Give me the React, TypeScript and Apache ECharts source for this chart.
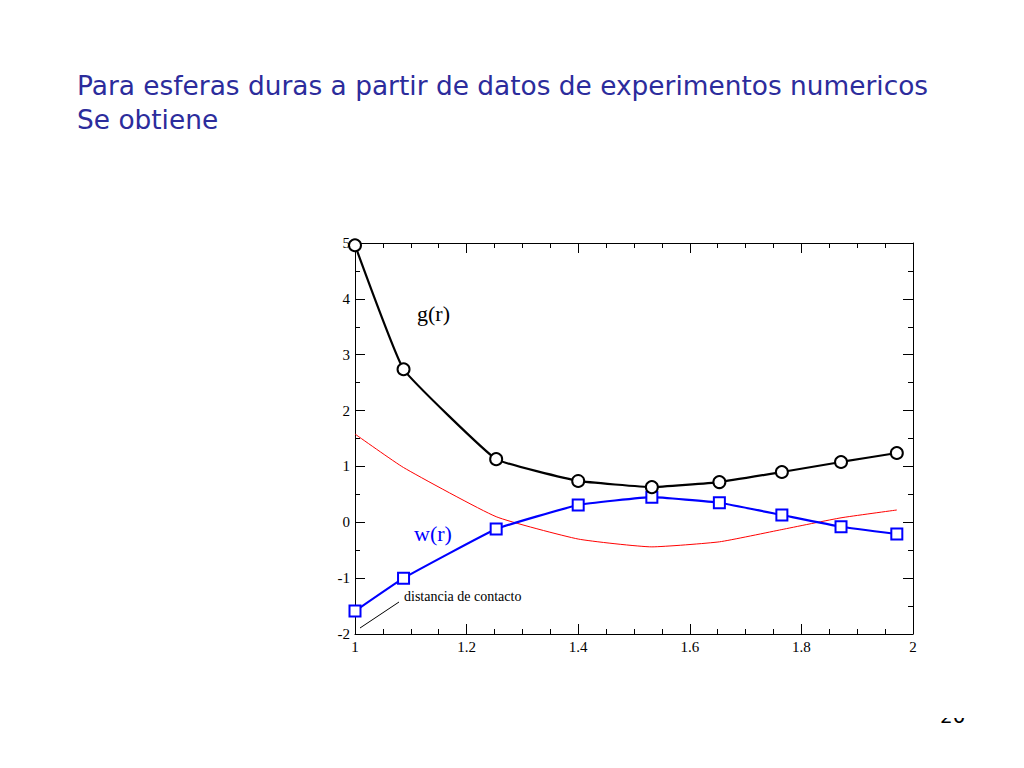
import { useEffect, useRef } from "react";
import * as echarts from "echarts";

const rValues = [1.0, 1.087, 1.253, 1.4, 1.532, 1.653, 1.765, 1.871, 1.971];
const gValues = [4.96, 2.74, 1.13, 0.74, 0.63, 0.72, 0.9, 1.08, 1.24];
const wValues = [-1.59, -1.0, -0.12, 0.31, 0.45, 0.35, 0.13, -0.08, -0.21];
const redValues = [1.58, 0.98, 0.1, -0.3, -0.44, -0.35, -0.13, 0.08, 0.22];

const xTicks = { min: 1, max: 2, interval: 0.2 };
const yTicks = { min: -2, max: 5, interval: 1 };

const titleLines = [
  "Para esferas duras a partir de datos de experimentos numericos",
  "Se obtiene",
];

const pair = (ys: number[]) => rValues.map((x, i) => [x, ys[i]]);

export default function App(): JSX.Element {
  const chartRef = useRef(null);
  useEffect(() => {
    const chartDom = chartRef.current;
    const myChart = echarts.init(chartDom, null, { renderer: "svg" });
    const serif = "'Liberation Serif', 'DejaVu Serif', serif";
    const axisBase = {
      type: "value",
      axisLine: { show: true, onZero: false, lineStyle: { color: "#000", width: 1 } },
      axisTick: { show: true, inside: true, length: 10, lineStyle: { color: "#000" } },
      minorTick: { show: true, length: 5, lineStyle: { color: "#000" } },
      splitLine: { show: false },
    };
    const option = {
      animation: false,
      grid: { left: 355, top: 243, width: 558, height: 391 },
      xAxis: [
        {
          ...axisBase,
          position: "bottom",
          ...xTicks,
          minorTick: { ...axisBase.minorTick, splitNumber: 4 },
          axisLabel: {
            color: "#000", fontFamily: serif, fontSize: 15, margin: 5,
            formatter: (v: number) => String(Math.round(v * 10) / 10),
          },
        },
        {
          ...axisBase,
          position: "top",
          ...xTicks,
          minorTick: { ...axisBase.minorTick, splitNumber: 4 },
          axisLabel: { show: false },
        },
      ],
      yAxis: [
        {
          ...axisBase,
          position: "left",
          ...yTicks,
          minorTick: { ...axisBase.minorTick, splitNumber: 2 },
          axisLabel: { color: "#000", fontFamily: serif, fontSize: 15, margin: 5 },
        },
        {
          ...axisBase,
          position: "right",
          ...yTicks,
          minorTick: { ...axisBase.minorTick, splitNumber: 2 },
          axisLabel: { show: false },
        },
      ],
      series: [
        {
          name: "red",
          type: "line",
          data: pair(redValues),
          showSymbol: false,
          smooth: 0.15,
          lineStyle: { color: "#ff0000", width: 1 },
          z: 2,
        },
        {
          name: "w(r)",
          type: "line",
          data: pair(wValues),
          symbol: "emptyRect",
          symbolSize: 11,
          smooth: 0.1,
          clip: false,
          lineStyle: { color: "#0000ff", width: 2.2 },
          itemStyle: { color: "#0000ff", borderColor: "#0000ff", borderWidth: 0.9 },
          z: 3,
        },
        {
          name: "g(r)",
          type: "line",
          data: pair(gValues),
          symbol: "emptyCircle",
          symbolSize: 12,
          smooth: 0.1,
          clip: false,
          lineStyle: { color: "#000", width: 2.2 },
          itemStyle: { color: "#000", borderColor: "#000", borderWidth: 0.9 },
          z: 4,
        },
      ],
      graphic: [
        {
          type: "text", left: 77, top: 68,
          style: {
            text: titleLines.join("\n"), fill: "#2c2c9c",
            font: "26.4px 'DejaVu Sans', sans-serif", lineHeight: 34,
          },
        },
        {
          type: "text", left: 417, top: 302,
          style: { text: "g(r)", fill: "#000", font: `22px ${serif}` },
        },
        {
          type: "text", left: 414, top: 522,
          style: { text: "w(r)", fill: "#0000ff", font: `22px ${serif}` },
        },
        {
          type: "text", left: 404, top: 589,
          style: { text: "distancia de contacto", fill: "#000", font: `14px ${serif}` },
        },
        {
          type: "line",
          shape: { x1: 360, y1: 628, x2: 399, y2: 602 },
          style: { stroke: "#000", lineWidth: 1 },
        },
        {
          type: "text", left: 940, top: 706,
          style: { text: "20", fill: "#000", font: "20px 'DejaVu Sans', sans-serif" },
        },
        {
          type: "rect", z: 100,
          shape: { x: 930, y: 690, width: 50, height: 28 },
          style: { fill: "#fff" },
        },
      ],
    };
    myChart.setOption(option);
    return () => {
      myChart.dispose();
    };
  }, []);

  return (
    <div
      ref={chartRef}
      style={{ position: "fixed", left: 0, top: 0, width: 1024, height: 768, background: "#fff" }}
    ></div>
  );
}
